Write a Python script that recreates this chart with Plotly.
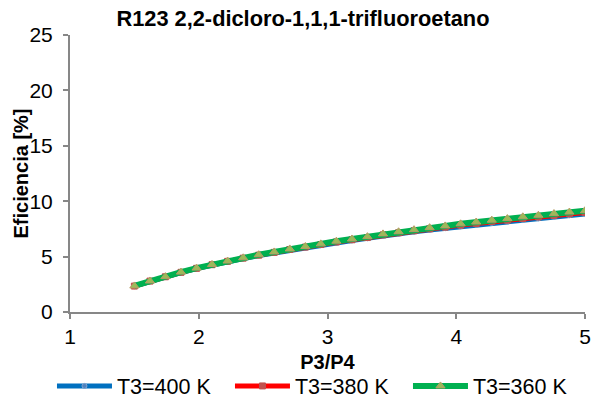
import plotly.graph_objects as go

# Pressure ratio P3/P4 (sample points)
p_ratio = [1.500, 1.621, 1.741, 1.862, 1.983, 2.103, 2.224, 2.345, 2.466, 2.586,
           2.707, 2.828, 2.948, 3.069, 3.190, 3.310, 3.431, 3.552, 3.672, 3.793,
           3.914, 4.034, 4.155, 4.276, 4.397, 4.517, 4.638, 4.759, 4.879, 5.000]

# Efficiency [%] for each inlet temperature T3
eff_400 = [2.33, 2.78, 3.16, 3.56, 3.92, 4.24, 4.54, 4.82, 5.09, 5.33,
           5.59, 5.80, 6.03, 6.26, 6.45, 6.65, 6.88, 7.06, 7.24, 7.41,
           7.56, 7.73, 7.88, 8.04, 8.17, 8.32, 8.45, 8.59, 8.73, 8.85]
eff_380 = [2.34, 2.79, 3.18, 3.58, 3.94, 4.27, 4.57, 4.86, 5.13, 5.38,
           5.64, 5.86, 6.09, 6.32, 6.52, 6.72, 6.96, 7.15, 7.33, 7.51,
           7.66, 7.84, 7.99, 8.16, 8.29, 8.44, 8.58, 8.72, 8.86, 8.98]
eff_360 = [2.35, 2.80, 3.19, 3.60, 3.96, 4.29, 4.60, 4.89, 5.17, 5.42,
           5.69, 5.91, 6.15, 6.39, 6.59, 6.80, 7.05, 7.24, 7.43, 7.61,
           7.77, 7.96, 8.12, 8.29, 8.43, 8.59, 8.73, 8.88, 9.02, 9.14]

series_names = ["T3=400 K", "T3=380 K", "T3=360 K"]
x_ticks = [1, 2, 3, 4, 5]
y_ticks = [0, 5, 10, 15, 20, 25]

FONT = "Liberation Sans, Arial, sans-serif"
AXIS_GREY = "#878787"

fig = go.Figure()

fig.add_trace(go.Scatter(
    x=p_ratio, y=eff_400, name=series_names[0], mode="lines+markers",
    line=dict(color="#0070C0", width=5),
    marker=dict(symbol="circle", size=5, color="#4F81BD",
                line=dict(color="#7FA3D0", width=1)),
))
fig.add_trace(go.Scatter(
    x=p_ratio, y=eff_380, name=series_names[1], mode="lines+markers",
    line=dict(color="#FF0000", width=5),
    marker=dict(symbol="square", size=6, color="#C0504D",
                line=dict(color="#C0504D", width=1)),
))
fig.add_trace(go.Scatter(
    x=p_ratio, y=eff_360, name=series_names[2], mode="lines+markers",
    line=dict(color="#00B050", width=6),
    marker=dict(symbol="triangle-up", size=8, color="#9BBB59",
                line=dict(color="#B89A66", width=1)),
))

fig.update_layout(
    width=594, height=400,
    margin=dict(l=70, r=9, t=35, b=88, autoexpand=False),
    paper_bgcolor="white", plot_bgcolor="white",
    font=dict(family=FONT, size=21, color="black"),
    title=dict(
        text="<b>R123 2,2-dicloro-1,1,1-trifluoroetano</b>",
        font=dict(family=FONT, size=21.8, color="black"),
        x=0.51, xanchor="center", xref="container",
        y=0.955, yanchor="middle", yref="container",
    ),
    showlegend=True,
    legend=dict(
        orientation="h",
        xref="paper", yref="paper",
        x=-0.035, xanchor="left",
        y=-0.267, yanchor="middle",
        font=dict(family=FONT, size=21.5, color="black"),
        itemwidth=55,
        entrywidth=108, entrywidthmode="pixels",
        bgcolor="rgba(0,0,0,0)",
        tracegroupgap=0,
    ),
    # y-axis title, placed as a rotated annotation
    annotations=[dict(
        text="<b>Eficiencia [%]</b>", textangle=-90,
        xref="paper", yref="paper", x=-0.097, y=0.5,
        xanchor="center", yanchor="middle", showarrow=False,
        font=dict(family=FONT, size=20, color="black"),
    )],
)

fig.update_xaxes(
    range=[1, 5], tickvals=x_ticks, ticktext=[str(v) for v in x_ticks],
    showgrid=False, zeroline=False,
    showline=True, linecolor=AXIS_GREY, linewidth=2,
    ticks="outside", ticklen=5, tickwidth=2, tickcolor=AXIS_GREY,
    tickfont=dict(family=FONT, size=21, color="black"),
    title=dict(text="<b>P3/P4</b>", standoff=8,
               font=dict(family=FONT, size=20, color="black")),
)
fig.update_yaxes(
    range=[0, 25], tickvals=y_ticks, ticktext=[str(v) for v in y_ticks],
    showgrid=False, zeroline=False,
    showline=True, linecolor=AXIS_GREY, linewidth=2,
    ticks="outside", ticklen=5, tickwidth=2, tickcolor=AXIS_GREY,
    ticklabelstandoff=6,
    tickfont=dict(family=FONT, size=21, color="black"),
)

fig.write_html("out.html")
